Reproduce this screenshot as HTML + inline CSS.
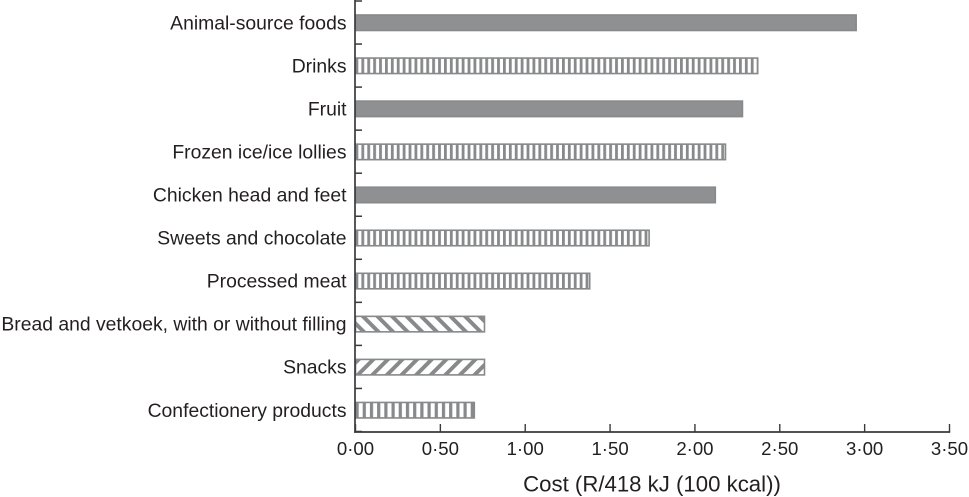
<!DOCTYPE html>
<html lang="en">
<head>
<meta charset="utf-8">
<title>Cost per 418 kJ by food category</title>
<style>
html,body{margin:0;padding:0;background:#fff;width:969px;height:497px;overflow:hidden}
svg{display:block;font-family:"Liberation Sans",sans-serif;fill:#231f20}
</style>
</head>
<body>
<svg id="chart" width="969" height="497" viewBox="0 0 969 497" xmlns="http://www.w3.org/2000/svg">
<defs>
<pattern id="vert" patternUnits="userSpaceOnUse" width="5.9" height="10" x="355.5">
<rect width="5.9" height="10" fill="#fff"/><rect width="2.8" height="10" fill="#87898b"/>
</pattern>
<pattern id="vertWide" patternUnits="userSpaceOnUse" width="7.2" height="10" x="355.5">
<rect width="7.2" height="10" fill="#fff"/><rect width="3.2" height="10" fill="#87898b"/>
</pattern>
<pattern id="diagDown" patternUnits="userSpaceOnUse" width="14.6" height="14.6" patternTransform="rotate(-45) scale(0.707)">
<rect width="14.6" height="14.6" fill="#fff"/><rect width="5.6" height="14.6" fill="#87898b"/>
</pattern>
<pattern id="diagUp" patternUnits="userSpaceOnUse" width="14.6" height="14.6" patternTransform="rotate(45) scale(0.707)">
<rect width="14.6" height="14.6" fill="#fff"/><rect width="5.6" height="14.6" fill="#87898b"/>
</pattern>
</defs>
<g id="bars"></g>
<g id="yAxis"></g>
<g id="xAxis"></g>
<text x="652" y="491.5" text-anchor="middle" font-size="22.2">Cost (R/418 kJ (100 kcal))</text>
</svg>
<script>
const categories = ["Animal-source foods","Drinks","Fruit","Frozen ice/ice lollies","Chicken head and feet","Sweets and chocolate","Processed meat","Bread and vetkoek, with or without filling","Snacks","Confectionery products"];
const costs = [2.95,2.37,2.28,2.18,2.12,1.73,1.38,0.76,0.76,0.70];
const fills = ["solid","vert","solid","vert","solid","vert","vert","diagDown","diagUp","vertWide"];
const xTicks = [0,0.5,1,1.5,2,2.5,3,3.5];
const xTickLabels = ["0·00","0·50","1·00","1·50","2·00","2·50","3·00","3·50"];

const NS = "http://www.w3.org/2000/svg";
const GREY = "#87898b";
const AXIS = "#3a3a3c";
const axisBottom = 432;
function xScale(v){ return 355.5 + v * (949.5 - 355.5) / 3.5; }
function yBand(i){ return 22.5 + i * 43.05; }
function make(tag, parent, attrs){
  const el = document.createElementNS(NS, tag);
  for (const k in attrs) el.setAttribute(k, attrs[k]);
  parent.appendChild(el);
  return el;
}
const barsG = document.getElementById("bars");
const yG = document.getElementById("yAxis");
const xG = document.getElementById("xAxis");

categories.forEach(function(name, i){
  const kind = fills[i];
  const fill = kind === "solid" ? "#8e9092" : "url(#" + kind + ")";
  const yc = yBand(i);
  const bar = make("rect", barsG, {x: xScale(0), y: yc - 7.5, width: xScale(costs[i]) - xScale(0), height: 15.5, fill: fill, stroke: GREY, "stroke-width": 1.6});
  
  
  const label = make("text", yG, {x: 346.5, y: yc + 6.8, "text-anchor": "end", "font-size": 19.35});
  label.textContent = name;
  
  
});
for (let i = 0; i <= categories.length; i++) {
  const ty = yBand(i) - 21.5;
  const tick = make("line", yG, {x1: 355, x2: 362, y1: ty, y2: ty, stroke: AXIS, "stroke-width": 1.5});
  
  
}
const yLine = make("line", yG, {x1: 355, x2: 355, y1: 0, y2: axisBottom + 0.8, stroke: AXIS, "stroke-width": 1.7});


const xLine = make("line", xG, {x1: 354.2, x2: xScale(3.5) + 0.7, y1: axisBottom, y2: axisBottom, stroke: AXIS, "stroke-width": 1.7});


xTicks.forEach(function(v, i){
  const px = xScale(v);
  const tick = make("line", xG, {x1: px, x2: px, y1: axisBottom, y2: axisBottom - 8, stroke: AXIS, "stroke-width": 1.4});
  
  
  const label = make("text", xG, {x: px, y: 455, "text-anchor": "middle", "font-size": 18.6});
  label.textContent = xTickLabels[i];
  
  
});
</script>
</body>
</html>
